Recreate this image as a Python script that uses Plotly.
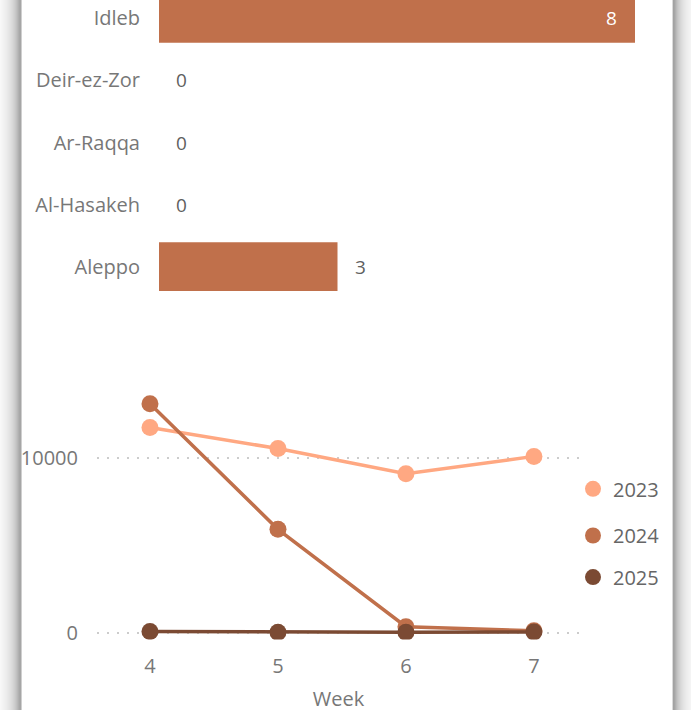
import plotly.graph_objects as go

W, H = 691, 716

# ---- data ----
governorates = ["Idleb", "Deir-ez-Zor", "Ar-Raqqa", "Al-Hasakeh", "Aleppo"]
gov_values = [8, 0, 0, 0, 3]

weeks = [4, 5, 6, 7]
years = ["2023", "2024", "2025"]
cases_2023 = [11750, 10550, 9100, 10100]
cases_2024 = [13120, 5920, 340, 110]
cases_2025 = [60, 20, 25, 40]
series = [cases_2023, cases_2024, cases_2025]

y_tick_vals = [0, 10000]
y_tick_text = ["0", "10000"]

year_colors = ["#FFA882", "#C0704B", "#7B4A33"]
bar_color = "#C0704B"
FONT = "Open Sans"


def px_x(p):
    return p / W


def px_y(p):
    return 1 - p / H


fig = go.Figure()

# bar chart (top)
fig.add_trace(go.Bar(
    x=gov_values, y=governorates, orientation="h",
    marker=dict(color=bar_color, line=dict(width=0)),
    width=0.783, xaxis="x", yaxis="y", showlegend=False, hoverinfo="x+y",
))

annotations = []
for g, v in zip(governorates, gov_values):
    if v >= 5:
        annotations.append(dict(x=v, y=g, xref="x", yref="y", text=str(v),
                                showarrow=False, xanchor="right", xshift=-16,
                                font=dict(family=FONT, size=19, color="white")))
    else:
        annotations.append(dict(x=v, y=g, xref="x", yref="y", text=str(v),
                                showarrow=False, xanchor="left", xshift=15,
                                font=dict(family=FONT, size=19, color="#5f5f5f")))

# line chart (bottom)
for name, vals, col in zip(years, series, year_colors):
    fig.add_trace(go.Scatter(
        x=weeks, y=vals, mode="lines+markers", name=name,
        line=dict(color=col, width=3.5),
        marker=dict(color=col, size=17),
        xaxis="x2", yaxis="y2", showlegend=False,
    ))

legend_ids = ["legend", "legend2", "legend3"]
legend_y = [493, 540, 582]
for name, col, lid in zip(years, year_colors, legend_ids):
    fig.add_trace(go.Scatter(
        x=[None], y=[None], mode="markers", name=name,
        marker=dict(color=col, size=20),
        xaxis="x2", yaxis="y2", showlegend=True, legend=lid,
    ))

leg_common = dict(font=dict(family=FONT, size=20, color="#666666"),
                  bgcolor="rgba(0,0,0,0)", borderwidth=0,
                  xanchor="left", yanchor="middle", itemwidth=30)
layout_legends = {}
for lid, yy in zip(legend_ids, legend_y):
    layout_legends[lid] = dict(x=px_x(573), y=px_y(yy), **leg_common)

# edge shadows of the card
shapes = []
left_cols = ["#f8f8f8", "#f6f6f6", "#f4f4f4", "#f2f2f2", "#f0f0f0", "#eeeeee",
             "#ececec", "#e9e9e9", "#e6e6e6", "#e3e3e3", "#e0e0e0", "#dcdcdc",
             "#d8d8d8", "#d3d3d3", "#cecece", "#c8c8c8", "#c1c1c1", "#b9b9b9",
             "#b0b0b0", "#a8a8a8", "#a6a6a6", "#cfcfcf"]
for i, c in enumerate(left_cols):
    shapes.append(dict(type="rect", xref="paper", yref="paper",
                       x0=px_x(i), x1=px_x(i + 1), y0=0, y1=1,
                       fillcolor=c, line=dict(width=0), layer="below"))
right_cols = ["#dadada", "#a2a2a2", "#a6a6a6", "#b0b0b0", "#bababa", "#c3c3c3",
              "#cacaca", "#d0d0d0", "#d6d6d6", "#dbdbdb", "#dfdfdf", "#e3e3e3",
              "#e6e6e6", "#e9e9e9", "#ececec", "#eeeeee", "#f0f0f0", "#f2f2f2",
              "#f4f4f4"]
for i, c in enumerate(right_cols):
    shapes.append(dict(type="rect", xref="paper", yref="paper",
                       x0=px_x(672 + i), x1=px_x(673 + i), y0=0, y1=1,
                       fillcolor=c, line=dict(width=0), layer="below"))

# y positions for bar axis: category i centre at 18.5 + 62.6*i px, top of area at 0px
bar_top, bar_bot = 0, 310
cat_step, cat0 = 62.6, 18.5
ybar_range = [(bar_bot - cat0) / cat_step, (bar_top - cat0) / cat_step]

# line axis: 0 at 638px, 10000 at 462px
line_top, line_bot = 380, 645
per = 176 / 10000
yline_range = [(638 - line_bot) / per, (638 - line_top) / per]

fig.update_layout(
    width=W, height=H,
    margin=dict(l=0, r=0, t=0, b=0),
    paper_bgcolor="white", plot_bgcolor="rgba(0,0,0,0)",
    font=dict(family=FONT, size=20, color="#777777"),
    xaxis=dict(domain=[px_x(159), px_x(635)], range=[0, 8], visible=False,
               fixedrange=True),
    yaxis=dict(domain=[px_y(bar_bot), px_y(bar_top)], type="category",
               range=ybar_range, showgrid=False, zeroline=False, showline=False,
               ticks="outside", ticklen=14, tickcolor="rgba(0,0,0,0)",
               tickfont=dict(family=FONT, size=20, color="#777777")),
    xaxis2=dict(domain=[px_x(97), px_x(580)], range=[3.586, 7.36],
                anchor="y2", tickvals=weeks, showgrid=False, zeroline=False,
                showline=False, ticks="outside", ticklen=8,
                tickcolor="rgba(0,0,0,0)",
                tickfont=dict(family=FONT, size=20, color="#777777"),
                title=dict(text="Week", standoff=14,
                           font=dict(family=FONT, size=20, color="#777777"))),
    yaxis2=dict(domain=[px_y(line_bot), px_y(line_top)], range=yline_range,
                anchor="x2", tickvals=y_tick_vals, ticktext=y_tick_text,
                showgrid=True,
                gridcolor="#cccccc", gridwidth=2, griddash="2px,8px",
                zeroline=False, showline=False, ticks="outside", ticklen=14,
                tickcolor="rgba(0,0,0,0)",
                tickfont=dict(family=FONT, size=20, color="#777777")),
    annotations=annotations,
    shapes=shapes,
    **layout_legends,
)

fig.write_html("out.html", config={"displayModeBar": False},
               post_script="document.body.style.margin='0';document.body.style.overflow='hidden';")
